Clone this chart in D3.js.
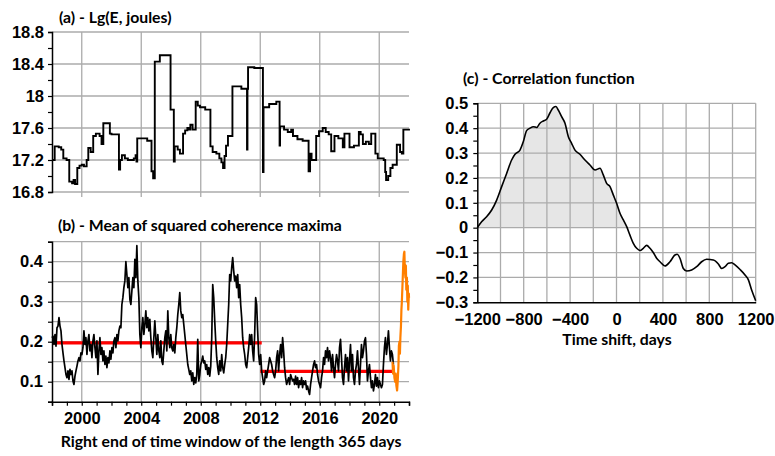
<!DOCTYPE html>
<html><head><meta charset="utf-8">
<script src="https://cdn.jsdelivr.net/npm/d3@7"></script>
<style>
body{margin:0;background:#fff;}
svg{display:block;}
</style></head>
<body>
<script>
// ---------- DATA ----------
// (a) Lg(E, joules) - step series
const aYears = [1998.00,1998.18,1998.45,1998.62,1998.76,1998.98,1999.16,1999.35,1999.45,1999.55,1999.70,1999.85,2000.00,2000.15,2000.33,2000.44,2000.60,2000.77,2000.95,2001.20,2001.33,2001.45,2001.89,2002.00,2002.50,2002.58,2002.70,2002.90,2003.10,2003.50,2003.62,2003.68,2003.73,2004.40,2004.69,2004.80,2004.91,2005.25,2005.97,2006.19,2006.25,2006.45,2006.60,2006.81,2006.95,2007.10,2007.20,2007.30,2007.45,2007.66,2007.80,2007.95,2008.30,2008.65,2008.80,2009.05,2009.25,2009.39,2009.50,2009.60,2009.70,2009.83,2010.13,2010.73,2011.11,2011.14,2011.18,2011.60,2012.18,2012.22,2012.60,2013.08,2013.30,2013.33,2013.60,2013.85,2014.08,2014.20,2014.50,2014.85,2015.25,2015.35,2015.45,2015.76,2015.95,2016.20,2016.40,2016.60,2016.77,2016.99,2017.25,2017.55,2017.66,2018.00,2018.30,2018.63,2018.75,2018.90,2019.10,2019.30,2019.46,2019.74,2019.90,2020.30,2020.40,2020.46,2020.60,2020.75,2020.90,2021.18,2021.40,2021.52,2021.62,2022.00];
const aValues = [17.20,17.37,17.36,17.33,17.22,17.20,16.93,16.91,16.95,16.90,17.10,17.13,17.14,17.12,17.20,17.35,17.30,17.50,17.53,17.50,17.40,17.66,17.53,17.52,17.08,17.20,17.26,17.22,17.20,17.22,17.26,17.18,17.47,17.44,17.06,16.97,18.43,18.51,17.83,17.18,17.37,17.33,17.28,17.53,17.57,17.60,17.58,17.64,17.58,17.93,17.88,17.86,17.83,17.37,17.30,17.28,17.22,17.17,17.10,17.25,17.38,17.50,18.12,18.09,17.33,18.09,18.36,18.35,17.05,17.86,17.90,17.93,17.38,17.62,17.58,17.55,17.58,17.50,17.46,17.44,17.06,17.28,17.20,17.50,17.56,17.60,17.55,17.52,17.31,17.50,17.47,17.36,17.53,17.36,17.38,17.55,17.52,17.40,17.43,17.40,17.53,17.28,17.22,17.20,17.05,16.95,17.00,17.10,17.14,17.39,17.30,17.28,17.58,17.59];
const aTicks = [16.8,17.2,17.6,18,18.4,18.8];

// (b) Mean of squared coherence maxima (uniform sampling from 1998, one value per bStep years)
const bStart = 1998;
const bStep = 1/14.9;
const bValues = [
0.21,0.214,0.193,0.218,0.189,0.235,0.239,0.26,0.239,0.227,0.193,0.172,0.152,0.135,0.118,0.11,0.127,0.106,0.131,0.118,
0.127,0.102,0.093,0.114,0.127,0.139,0.152,0.16,0.152,0.172,0.168,0.185,0.227,0.193,0.21,0.168,0.202,0.218,0.177,0.193,
0.16,0.202,0.218,0.185,0.16,0.202,0.118,0.177,0.21,0.168,0.185,0.152,0.177,0.143,0.164,0.135,0.16,0.147,0.177,0.156,
0.185,0.172,0.202,0.21,0.185,0.218,0.202,0.227,0.239,0.235,0.293,0.31,0.335,0.352,0.4,0.368,0.335,0.36,0.306,0.293,
0.327,0.36,0.335,0.406,0.36,0.44,0.352,0.31,0.218,0.185,0.235,0.26,0.218,0.243,0.277,0.235,0.26,0.227,0.256,0.21,
0.177,0.16,0.21,0.252,0.21,0.168,0.218,0.177,0.16,0.202,0.152,0.143,0.177,0.21,0.227,0.177,0.277,
0.21,0.185,0.218,0.185,0.177,0.193,0.172,0.21,0.235,0.268,0.293,0.323,0.277,0.26,0.268,0.243,0.218,0.193,0.168,0.143,
0.131,0.118,0.127,0.102,0.122,0.093,0.11,0.097,0.118,0.206,0.102,0.118,0.143,0.152,0.164,0.147,0.152,0.131,0.143,0.118,
0.135,0.114,0.139,0.21,0.343,0.31,0.252,0.202,0.16,0.135,0.118,0.152,0.127,0.168,0.135,0.122,0.143,0.16,0.193,0.243,
0.293,0.368,0.352,0.385,0.41,0.377,0.352,0.364,0.335,0.368,0.31,0.343,0.293,0.26,0.21,0.185,0.168,0.143,0.135,0.16,
0.185,0.218,0.193,0.218,0.177,0.152,0.218,0.31,0.293,0.227,0.168,0.143,0.168,0.127,0.11,0.093,0.102,0.127,0.11,0.127,
0.143,0.16,0.152,0.143,0.127,0.118,0.11,0.127,0.16,0.177,0.127,0.168,0.193,0.16,0.21,0.177,0.135,0.11,0.093,0.102,
0.11,0.093,0.118,0.11,0.102,
0.106,0.093,0.114,0.093,0.11,0.085,0.102,0.093,0.11,0.085,0.102,0.093,0.102,0.081,0.089,0.077,0.068,0.093,0.11,0.127,
0.143,0.152,0.135,0.143,0.118,0.102,0.093,0.085,0.11,0.127,0.16,0.143,0.177,0.16,0.185,0.152,0.177,0.16,0.127,0.168,
0.135,0.11,0.143,0.168,0.152,0.127,0.185,0.206,0.16,0.11,0.093,0.135,0.168,0.127,0.16,0.102,0.152,0.193,0.127,0.168,
0.11,0.093,0.127,0.143,0.177,0.135,0.093,0.143,0.193,0.16,0.177,0.202,0.21,0.168,0.102,0.127,0.143,0.11,0.085,0.102,
0.077,0.093,0.118,0.089,0.11,0.085,0.102,0.093,0.085,0.093,0.143,0.185,0.21,0.168,0.193,0.227,0.185,0.152,0.177,0.168,
0.143];
const orangeYears = [2020.89,2020.93,2020.97,2021.02,2021.07,2021.11,2021.15,2021.20,2021.24,2021.29,2021.32,2021.36,2021.39,2021.42,2021.46,2021.49,2021.52,2021.56,2021.59,2021.62,2021.66,2021.69,2021.72,2021.76,2021.79,2021.82,2021.86,2021.89,2021.92,2021.95,2021.99,2022.0];
const orangeValues = [0.15,0.12,0.14,0.11,0.10,0.12,0.09,0.078,0.10,0.14,0.19,0.20,0.17,0.21,0.24,0.28,0.30,0.34,0.37,0.40,0.42,0.425,0.38,0.36,0.39,0.33,0.36,0.30,0.34,0.28,0.32,0.31];
const meanLevels = [{from:1998, to:2012.1, value:0.197},{from:2012.0, to:2020.95, value:0.126}];
const bTicks = [0.1,0.2,0.3,0.4];
const yearTicks = [2000,2004,2008,2012,2016,2020];

// (c) Correlation function
const cShift = [-1200,-1163,-1120,-1076,-1033,-990,-947,-904,-875,-832,-803,-775,-746,-717,-688,-660,-631,-602,-573,-545,-522,-502,-473,-444,-415,-387,-358,-315,-272,-229,-185,-142,-114,-85,-56,-27,1,30,59,88,116,145,174,203,231,260,289,317,346,375,418,461,504,524,547,576,605,648,691,734,777,835,878,907,935,964,993,1022,1065,1108,1137,1165,1200];
const cValues = [0,0.024,0.044,0.071,0.111,0.165,0.218,0.272,0.295,0.312,0.346,0.39,0.4,0.406,0.403,0.42,0.429,0.436,0.462,0.483,0.487,0.473,0.446,0.42,0.366,0.339,0.312,0.295,0.272,0.252,0.232,0.239,0.212,0.178,0.165,0.131,0.098,0.058,0.031,0.004,-0.03,-0.063,-0.083,-0.092,-0.083,-0.071,-0.083,-0.1,-0.123,-0.137,-0.154,-0.137,-0.11,-0.107,-0.123,-0.164,-0.174,-0.17,-0.157,-0.137,-0.127,-0.13,-0.146,-0.164,-0.157,-0.143,-0.141,-0.15,-0.168,-0.19,-0.21,-0.251,-0.294];
const cXTicks = [-1200,-800,-400,0,400,800,1200];
const cYTicks = [-0.3,-0.2,-0.1,0,0.1,0.2,0.3,0.4,0.5];

// ---------- DRAW ----------
const W = 775, H = 456;
const svg = d3.select("body").append("svg").attr("width", W).attr("height", H);
svg.append("rect").attr("width", W).attr("height", H).attr("fill", "#fff");

const GRID = "#ababab";
const tickFont = "'Liberation Sans', Arial, sans-serif";
const TICK_SIZE = 16.5;
const titleFont = "Lato, 'Open Sans', sans-serif";
const TITLE_SIZE = 15.8;

const x = d3.scaleLinear().domain([1998, 2022]).range([52, 409]);

function grid(g, xs, ys, xScale, yScale, x0, x1, y0, y1, yExt) {
  g.selectAll(".vg").data(xs).join("line")
    .attr("x1", d => xScale(d)).attr("x2", d => xScale(d))
    .attr("y1", y0).attr("y2", y1 + (yExt || 0))
    .attr("stroke", GRID).attr("stroke-width", 1.3);
  g.selectAll(".hg").data(ys).join("line")
    .attr("x1", x0).attr("x2", x1)
    .attr("y1", d => yScale(d)).attr("y2", d => yScale(d))
    .attr("stroke", GRID).attr("stroke-width", 1.3);
}

function styleTickText(sel) {
  sel.attr("font-family", tickFont).attr("font-weight", "bold")
    .attr("font-size", TICK_SIZE).attr("fill", "#000");
}

function leftAxis(yScale, majors, minorStep, fmt, xPos, pad) {
  const [d0, d1] = yScale.domain();
  const minors = d3.range(Math.round(d0 / minorStep), Math.round(d1 / minorStep) + 1).map(k => +(k * minorStep).toFixed(4));
  const ax = d3.axisLeft(yScale).tickValues(minors).tickSize(4).tickFormat("");
  const g = svg.append("g").attr("transform", `translate(${xPos},0)`).call(ax);
  g.select(".domain").attr("stroke", "#000").attr("stroke-width", 1.5);
  g.selectAll(".tick line").attr("stroke", "#000").attr("stroke-width", 1.2);
  const lab = d3.axisLeft(yScale).tickValues(majors).tickSize(0).tickPadding(pad).tickFormat(fmt);
  const g2 = svg.append("g").attr("transform", `translate(${xPos},0)`).call(lab);
  g2.select(".domain").remove();
  styleTickText(g2.selectAll("text"));
  return g;
}

function title(txt, xp, yp, anchor) {
  svg.append("text").attr("x", xp).attr("y", yp).attr("text-anchor", anchor || "start").text(txt)
    .attr("font-family", titleFont).attr("font-weight", "bold").attr("font-size", TITLE_SIZE).attr("fill", "#000");
}

// ----- Panel (a) -----
const ya = d3.scaleLinear().domain([16.8, 18.8]).range([192, 32]);
const ga = svg.append("g");
grid(ga, yearTicks, aTicks, x, ya, 52, 409, 32, 192, 5);
const aData = aYears.map((t, i) => ({t, v: aValues[i]}));
svg.append("path").datum(aData)
  .attr("d", d3.line().x(d => x(d.t)).y(d => ya(d.v)).curve(d3.curveStepAfter))
  .attr("fill", "none").attr("stroke", "#000").attr("stroke-width", 1.9);
leftAxis(ya, aTicks, 0.2, d => d3.format("")(d), 52, 8);
title("(a) - Lg(E, joules)", 59, 23);

// ----- Panel (b) -----
const yb = d3.scaleLinear().domain([0.05, 0.45]).range([401.7, 241.7]);
const gb = svg.append("g");
grid(gb, yearTicks, d3.range(1, 9).map(k => +(0.05 + k * 0.05).toFixed(2)), x, yb, 52, 409, 241.7, 401.7, 0);
svg.selectAll(".lvl").data(meanLevels).join("line")
  .attr("x1", d => x(d.from)).attr("x2", d => x(d.to))
  .attr("y1", d => yb(d.value)).attr("y2", d => yb(d.value))
  .attr("stroke", "#ff0000").attr("stroke-width", 3.2);
const bData = bValues.map((v, i) => ({t: bStart + i * bStep, v}));
svg.append("path").datum(bData)
  .attr("d", d3.line().x(d => x(d.t)).y(d => yb(d.v)))
  .attr("fill", "none").attr("stroke", "#000").attr("stroke-width", 1.7).attr("stroke-linejoin", "round");
const oData = orangeYears.map((t, i) => ({t, v: orangeValues[i]}));
svg.append("path").datum(oData)
  .attr("d", d3.line().x(d => x(d.t)).y(d => yb(d.v)))
  .attr("fill", "none").attr("stroke", "#ff7f00").attr("stroke-width", 2.2).attr("stroke-linejoin", "round");
leftAxis(yb, bTicks, 0.05, d3.format(".1f"), 52, 9);
const xbAx = d3.axisBottom(x).tickValues(d3.range(1998, 2023)).tickSize(4).tickFormat("");
const gxb = svg.append("g").attr("transform", "translate(0,401.7)").call(xbAx);
gxb.select(".domain").attr("stroke", "#000").attr("stroke-width", 1.5);
gxb.selectAll(".tick line").attr("stroke", "#000").attr("stroke-width", 1.2);
const xbLab = d3.axisBottom(x).tickValues(yearTicks).tickSize(0).tickPadding(11).tickFormat(d3.format("d"));
const gxl = svg.append("g").attr("transform", "translate(0,401.7)").call(xbLab);
gxl.select(".domain").remove();
styleTickText(gxl.selectAll("text"));
title("(b) - Mean of squared coherence maxima", 58, 231);
title("Right end of time window of the length 365 days", 231, 447, "middle");

// ----- Panel (c) -----
const xc = d3.scaleLinear().domain([-1200, 1200]).range([477.3, 755.7]);
const yc = d3.scaleLinear().domain([-0.3, 0.5]).range([302.3, 103.3]);
const cData = cShift.map((d, i) => ({d, v: cValues[i]}));
svg.append("path").datum(cData)
  .attr("d", d3.area().x(d => xc(d.d)).y0(yc(0)).y1(d => yc(Math.max(0, d.v))).curve(d3.curveMonotoneX))
  .attr("fill", "#e6e6e6");
const gc = svg.append("g");
grid(gc, d3.range(-1000, 1201, 200), d3.range(-2, 6).map(k => k / 10), xc, yc, 477.3, 755.7, 103.3, 302.3, 0);
svg.append("path").datum(cData)
  .attr("d", d3.line().x(d => xc(d.d)).y(d => yc(d.v)).curve(d3.curveMonotoneX))
  .attr("fill", "none").attr("stroke", "#000").attr("stroke-width", 1.6);
leftAxis(yc, cYTicks, 0.05, d => d === 0 ? "0" : d3.format(".1f")(d), 477.3, 9);
const xcAx = d3.axisBottom(xc).tickValues(cXTicks).tickSize(0).tickPadding(11).tickFormat(d3.format("d"));
const gxc = svg.append("g").attr("transform", "translate(0,302.3)").call(xcAx);
gxc.select(".domain").attr("stroke", "#000").attr("stroke-width", 1.5);
styleTickText(gxc.selectAll("text"));
title("(c) - Correlation function", 463, 84);
title("Time shift, days", 617, 345, "middle");
</script>
</body></html>
